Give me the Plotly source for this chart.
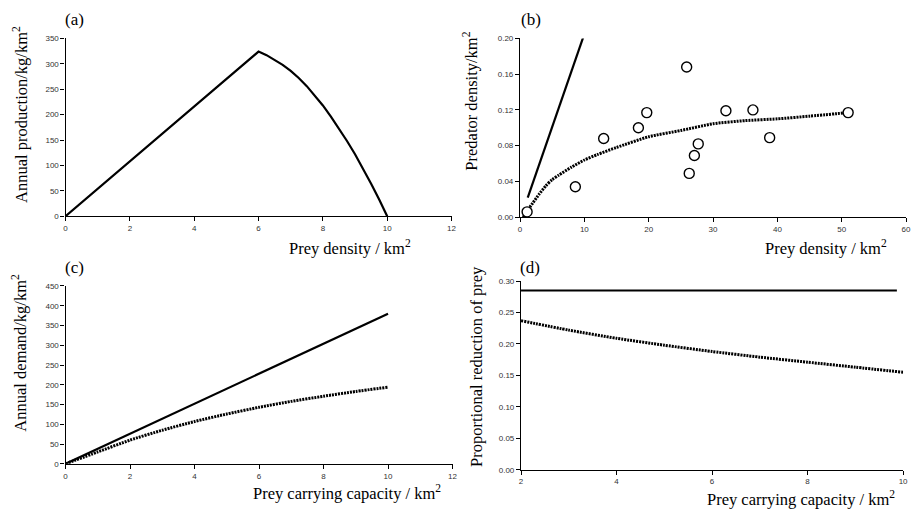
import plotly.graph_objects as go

W, H = 919, 514

# ---- Panel (a): annual production vs prey density
a_x = [0, 6, 6.25, 6.5, 6.75, 7, 7.25, 7.5, 7.75, 8, 8.25, 8.5, 8.75, 9, 9.25, 9.5, 9.75, 10]
a_y = [0, 324, 317, 308, 298, 286, 272, 256, 238, 218, 196, 173, 148, 122, 94, 64, 33, 0]

# ---- Panel (b): predator density vs prey density
b_obs_x = [1.1, 8.6, 13.0, 18.4, 19.7, 25.9, 26.3, 27.1, 27.7, 32.0, 36.2, 38.8, 51.0]
b_obs_y = [0.006, 0.034, 0.088, 0.100, 0.117, 0.168, 0.049, 0.069, 0.082, 0.119, 0.120, 0.089, 0.117]
b_line_x = [1.2, 10.0]
b_line_y = [0.022, 0.205]
b_fit_x = [0.5, 1, 2, 3, 4, 5, 6, 8, 10, 12, 15, 20, 25, 30, 35, 40, 45, 51]
b_fit_y = [0.0, 0.006, 0.016, 0.026, 0.035, 0.042, 0.047, 0.056, 0.064, 0.070, 0.078,
           0.090, 0.097, 0.1045, 0.108, 0.110, 0.113, 0.117]

# ---- Panel (c): annual demand vs prey carrying capacity
c_x = [0, 1, 2, 3, 4, 5, 6, 7, 8, 9, 10]
c_solid = [0, 38, 76, 114, 152, 190, 228, 266, 304, 342, 380]
c_dotted = [0, 30, 60, 85, 107, 126, 143, 158, 171, 183, 194]

# ---- Panel (d): proportional reduction of prey
d_solid_x = [2, 9.87]
d_solid_y = [0.285, 0.285]
d_x = [2, 3, 4, 5, 6, 7, 8, 9, 10]
d_dotted = [0.237, 0.222, 0.209, 0.198, 0.188, 0.179, 0.171, 0.163, 0.155]

# tick values
a_xticks = [0, 2, 4, 6, 8, 10, 12]
a_yticks = [0, 50, 100, 150, 200, 250, 300, 350]
b_xticks = [0, 10, 20, 30, 40, 50, 60]
b_yticks = [0.00, 0.04, 0.08, 0.12, 0.16, 0.20]
c_xticks = [0, 2, 4, 6, 8, 10, 12]
c_yticks = [0, 50, 100, 150, 200, 250, 300, 350, 400, 450]
d_xticks = [2, 4, 6, 8, 10]
d_yticks = [0.00, 0.05, 0.10, 0.15, 0.20, 0.25, 0.30]


def px_x(p):
    return p / W


def px_y(p):
    return 1 - p / H


fig = go.Figure()
solid = dict(color="black", width=2.2)
dotted = dict(color="black", width=3, dash="2px,1px", shape="spline", smoothing=0.6)

fig.add_trace(go.Scatter(x=a_x, y=a_y, mode="lines", line=solid, xaxis="x", yaxis="y"))

fig.add_trace(go.Scatter(x=b_line_x, y=b_line_y, mode="lines", line=solid, xaxis="x2", yaxis="y2"))
fig.add_trace(go.Scatter(x=b_fit_x, y=b_fit_y, mode="lines", line=dotted, xaxis="x2", yaxis="y2"))
fig.add_trace(go.Scatter(x=b_obs_x, y=b_obs_y, mode="markers",
                         marker=dict(symbol="circle", size=10, color="white",
                                     line=dict(color="black", width=1.4)),
                         cliponaxis=False, xaxis="x2", yaxis="y2"))

fig.add_trace(go.Scatter(x=c_x, y=c_solid, mode="lines", line=solid, xaxis="x3", yaxis="y3"))
fig.add_trace(go.Scatter(x=c_x, y=c_dotted, mode="lines", line=dotted, xaxis="x3", yaxis="y3"))

fig.add_trace(go.Scatter(x=d_solid_x, y=d_solid_y, mode="lines", line=solid, xaxis="x4", yaxis="y4"))
fig.add_trace(go.Scatter(x=d_x, y=d_dotted, mode="lines", line=dotted, xaxis="x4", yaxis="y4"))

tickfont = dict(family="Liberation Sans, Arial, sans-serif", size=8, color="#333")


def xax(rng, ticks, dom, anchor):
    return dict(domain=[px_x(dom[0]), px_x(dom[1])], range=rng, tickvals=ticks,
                showgrid=False, zeroline=False, showline=True, linecolor="black",
                linewidth=1.2, ticks="outside", ticklen=4, tickcolor="black",
                tickfont=tickfont, anchor=anchor, fixedrange=True)


def yax(rng, ticks, dom, anchor, fmt=None):
    d = dict(domain=[px_y(dom[1]), px_y(dom[0])], range=rng, tickvals=ticks,
             showgrid=False, zeroline=False, showline=True, linecolor="black",
             linewidth=1.2, ticks="outside", ticklen=4, tickcolor="black",
             tickfont=tickfont, anchor=anchor, fixedrange=True)
    if fmt:
        d["tickformat"] = fmt
    return d


fig.update_layout(
    width=W, height=H, margin=dict(l=0, r=0, t=0, b=0),
    paper_bgcolor="white", plot_bgcolor="white", showlegend=False,
    xaxis=xax([0, 12], a_xticks, (64, 453), "y"),
    yaxis=yax([0, 350], a_yticks, (35, 216), "x"),
    xaxis2=xax([0, 60], b_xticks, (522, 911), "y2"),
    yaxis2=yax([0, 0.2], b_yticks, (35, 217), "x2", ".2f"),
    xaxis3=xax([0, 12], c_xticks, (64, 454), "y3"),
    yaxis3=yax([0, 450], c_yticks, (287, 468), "x3"),
    xaxis4=xax([2, 10], d_xticks, (523, 908), "y4"),
    yaxis4=yax([0, 0.3], d_yticks, (282, 474), "x4", ".2f"),
)

serif = "Liberation Serif, Times New Roman, serif"


def note(text, x, y, size=16.5, angle=0):
    fig.add_annotation(text=text, x=px_x(x), y=px_y(y), xref="paper", yref="paper",
                       showarrow=False, textangle=angle, xanchor="center", yanchor="middle",
                       font=dict(family=serif, size=size, color="black"))


# panel labels
note("(a)", 73, 16, 17)
note("(b)", 533, 16, 17)
note("(c)", 73, 268, 17)
note("(d)", 532, 268, 17)

# x titles
note("Prey density / km<sup>2</sup>", 351, 248)
note("Prey density / km<sup>2</sup>", 830, 248)
note("Prey carrying capacity / km<sup>2</sup>", 348, 497)
note("Prey carrying capacity / km<sup>2</sup>", 805, 503)

# y titles
note("Annual production/kg/km<sup>2</sup>", 18, 112, 16.5, -90)
note("Predator density/km<sup>2</sup>", 472, 99, 16.5, -90)
note("Annual demand/kg/km<sup>2</sup>", 18, 355, 16.5, -90)
note("Proportional reduction of prey", 478, 369, 16.5, -90)

fig.write_html("out.html")
